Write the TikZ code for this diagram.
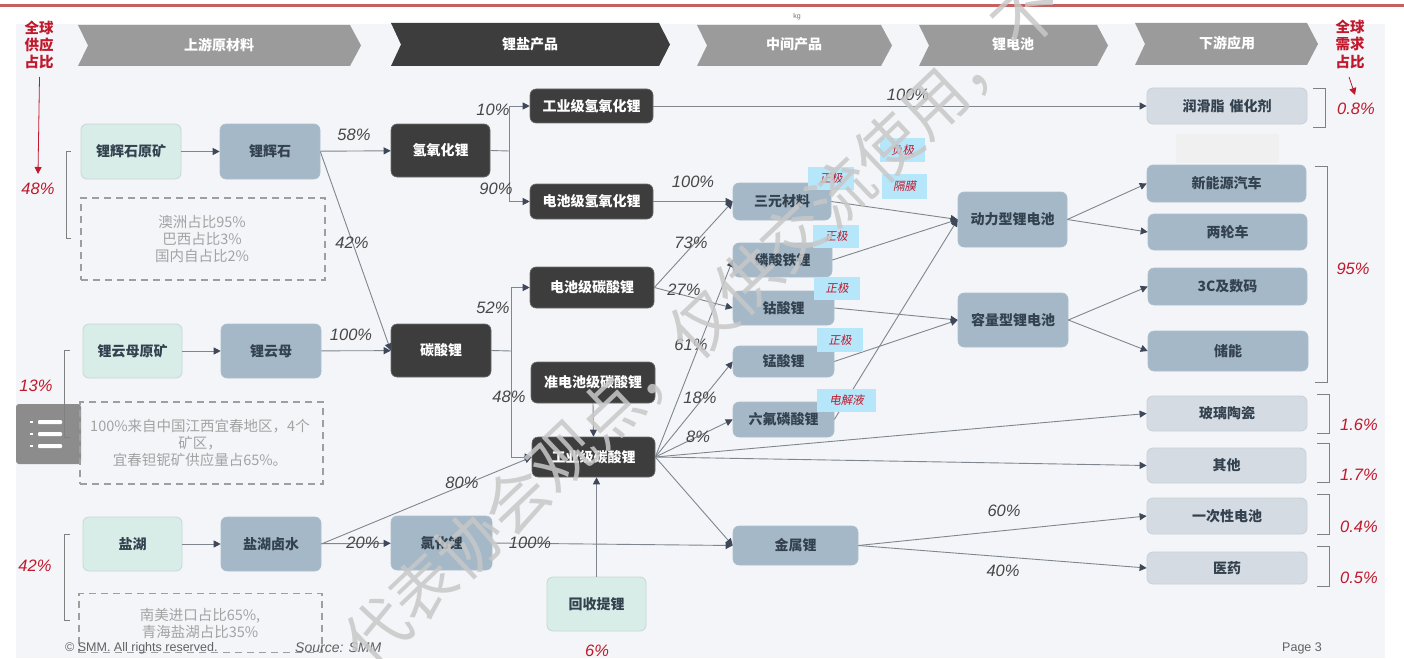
\documentclass[tikz,border=0pt]{standalone}
\usepackage{fontspec}
\setmainfont{Noto Sans CJK SC}
\newfontfamily\lat{Liberation Sans}
\newfontfamily\cjksl[AutoFakeSlant=0.2]{Noto Sans CJK SC}
\usetikzlibrary{arrows.meta}
\newcommand\fsz[2]{\fontsize{#1}{#2}\selectfont}
\definecolor{panelc}{HTML}{F3F5F8}
\definecolor{linec}{HTML}{7F868D}
\definecolor{tipc}{HTML}{3E4858}
\definecolor{darkc}{HTML}{3D3D3D}
\definecolor{steelc}{HTML}{A5B8C7}
\definecolor{mintc}{HTML}{D9EDE8}
\definecolor{palec}{HTML}{D5DBE3}
\definecolor{inkc}{HTML}{34424F}
\definecolor{redc}{HTML}{C0182C}
\definecolor{rulec}{HTML}{C46060}
\definecolor{bluec}{HTML}{B6E6FA}
\definecolor{chevc}{HTML}{9B9B9B}
\definecolor{markc}{HTML}{C8C8C8}
\tikzset{
  boxb/.style={rounded corners=6pt,inner sep=0pt,align=center,font=\fsz{14}{17}\bfseries},
  darkb/.style={boxb,fill=darkc,draw=darkc!75!white,line width=.6pt,text=white},
  steelb/.style={boxb,fill=steelc,draw=steelc!90!white,line width=.6pt,text=inkc},
  mintb/.style={boxb,fill=mintc,draw=mintc!80!gray,line width=.8pt,text=inkc},
  paleb/.style={boxb,fill=palec,draw=palec!88!gray,line width=.8pt,text=inkc},
  dashb/.style={draw=black!38,dashed,dash pattern=on 7pt off 5pt,line width=1.1pt,inner sep=0pt},
  flow/.style={draw=linec,line width=.9pt,-{Triangle[length=7pt,width=7pt,fill=tipc,color=tipc]}},
  plain/.style={draw=linec,line width=.9pt},
  pct/.style={font=\lat\itshape\fsz{16.5}{17},text=black!72,inner sep=0pt},
  rpct/.style={font=\lat\itshape\fsz{16.5}{17},text=redc,inner sep=0pt},
  rhead/.style={font=\cjksl\bfseries\itshape\fsz{14.5}{17},text=redc,inner sep=0pt},
  tagb/.style={fill=bluec,inner sep=0pt,font=\cjksl\itshape\fsz{11.5}{12},text=redc},
  note/.style={align=center,text=black!36,inner sep=0pt,font=\fsz{14.5}{17.4}},
  brk/.style={draw=black!50,line width=.8pt},
  chevt/.style={font=\fsz{14}{17}\bfseries,text=white,inner sep=0pt},
  foot/.style={font=\lat\fsz{12.5}{13},text=black!62,inner sep=0pt},
}
\newcommand\bx[7]{\node[#2,minimum width={(#4-#3)*1pt},minimum height={(#6-#5)*1pt}] (#1) at ({(#3+#4)/2},{(#5+#6)/2}) {#7};}
\newcommand\chev[6]{\fill[#1] (#2,#4) -- (#3-11,#4) -- (#3,{(#4+#5)/2}) -- (#3-11,#5) -- (#2,#5) -- (#2+10,{(#4+#5)/2}) -- cycle;}
\begin{document}
\begin{tikzpicture}[x=1pt,y=-1pt]
\useasboundingbox (0,0) rectangle (1404,658);
\begin{scope}
\clip (0,0) rectangle (1404,658);
\fill[white] (0,0) rectangle (1404,658);
\fill[panelc] (16,24) rectangle (1385,658);
\fill[black!6] (1176,134) rectangle (1279,163);
\fill[rulec] (0,4) rectangle (1404,7.5);
\node[text=black!55,inner sep=0pt,font=\lat\fsz{7}{7}] (mk) at (797,17) {kg};
% menu icon
\fill[black!45,rounded corners=3pt] (16,404) -- (81,404) -- (81,464) -- (16,464) -- cycle;
\foreach \yy in {422,434,446}{\fill[white] (30,{\yy-1}) rectangle (33,{\yy+1}); \fill[white,rounded corners=1pt] (38,{\yy-2}) rectangle (62,{\yy+2});}
% headers
\chev{chevc}{78}{361}{25}{66}{}
\chev{darkc}{391}{670}{23}{66}{}
\chev{chevc}{697}{892}{25}{66}{}
\chev{chevc}{919}{1108}{25}{66}{}
\chev{chevc}{1135}{1318}{23}{65}{}
\node[chevt] (h1) at (219,45) {上游原材料};
\node[chevt] (h2) at (530,44) {锂盐产品};
\node[chevt] (h3) at (794,44) {中间产品};
\node[chevt] (h4) at (1013,44) {锂电池};
\node[chevt] (h5) at (1227,43) {下游应用};
% dashed notes
\node[dashb,minimum width=244pt,minimum height=82pt] (d1) at (203,239) {};
\node[dashb,minimum width=243pt,minimum height=82pt] (d2) at (201.5,443) {};
\node[dashb,minimum width=243pt,minimum height=59pt] (d3) at (200.5,623) {};
\node[note] (n1) at (202,239) {澳洲占比95\%\\巴西占比3\%\\国内自占比2\%};
\node[note] (n2) at (200,443) {100\%来自中国江西宜春地区，4个\\矿区，\\宜春钽铌矿供应量占65\%。};
\node[note] (n3) at (200,623.5) {南美进口占比65\%,\\青海盐湖占比35\%};
% boxes
\bx{a1}{mintb}{81}{181}{124}{179}{锂辉石原矿}
\bx{a2}{steelb}{220}{320}{124}{179}{锂辉石}
\bx{b1}{mintb}{83}{182}{324}{378}{锂云母原矿}
\bx{b2}{steelb}{221}{321}{324}{378}{锂云母}
\bx{c1}{mintb}{83}{182}{517}{571}{盐湖}
\bx{c2}{steelb}{221}{321}{517}{571}{盐湖卤水}
\bx{lh}{darkb}{391}{490}{124}{177}{氢氧化锂}
\bx{lc}{darkb}{391}{491}{324}{377}{碳酸锂}
\bx{lcl}{steelb}{391}{492}{516}{570}{氯化锂}
\bx{gq}{darkb}{530}{653}{89}{123}{工业级氢氧化锂}
\bx{dq}{darkb}{530}{653}{184}{219}{电池级氢氧化锂}
\bx{dt}{darkb}{530}{654}{267}{308}{电池级碳酸锂}
\bx{zt}{darkb}{531}{655}{362}{403}{准电池级碳酸锂}
\bx{gt}{darkb}{532}{655}{437}{477}{工业级碳酸锂}
\bx{rec}{mintb}{547}{646}{577}{631}{回收提锂}
\bx{sy}{steelb}{733}{831}{183}{220}{三元材料}
\bx{lf}{steelb}{733}{832}{243}{277}{磷酸铁锂}
\bx{co}{steelb}{733}{834}{291}{325}{钴酸锂}
\bx{mn}{steelb}{733}{834}{346}{377}{锰酸锂}
\bx{pf}{steelb}{733}{834}{402}{437}{六氟磷酸锂}
\bx{li}{steelb}{733}{858}{526}{565}{金属锂}
\bx{pw}{steelb}{958}{1067}{192}{247}{动力型锂电池}
\bx{cp}{steelb}{958}{1068}{293}{347}{容量型锂电池}
\bx{u1}{paleb}{1147}{1307}{88}{124}{润滑脂\hspace{5pt}催化剂}
\bx{u2}{steelb}{1147}{1306}{165}{202}{新能源汽车}
\bx{u3}{steelb}{1148}{1307}{214}{250}{两轮车}
\bx{u4}{steelb}{1148}{1307}{268}{305}{3C及数码}
\bx{u5}{steelb}{1148}{1308}{331}{371}{储能}
\bx{u6}{paleb}{1147}{1307}{396}{431}{玻璃陶瓷}
\bx{u7}{paleb}{1147}{1306}{448}{483}{其他}
\bx{u8}{paleb}{1147}{1307}{498}{534}{一次性电池}
\bx{u9}{paleb}{1147}{1307}{552}{584}{医药}
% connectors
\coordinate (j1) at (509,151);
\coordinate (j2) at (511,351);
\draw[flow] (a1) -- (a2);
\draw[flow] (a2) -- (lh);
\draw[flow] (a2.east) -- (lc.west);
\draw[flow] (b1) -- (b2);
\draw[flow] (b2) -- (lc);
\draw[flow] (c1) -- (c2);
\draw[flow] (c2) -- (lcl);
\draw[flow] (c2.east) -- (gt.west);
\draw[plain] (lh.east) -- (j1);
\draw[flow] (j1) |- (gq.west);
\draw[flow] (j1) |- (dq.west);
\draw[plain] (lc.east) -- (j2);
\draw[flow] (j2) |- (dt.west);
\draw[flow] (j2) |- (gt.west);
\draw[flow] (zt.south) -- (gt.north);
\draw[flow] (rec.north) -- (gt.south -| rec.north);
\draw[flow] (gq.east) -- (u1.west);
\draw[flow] (dq.east) -- (sy.west);
\draw[flow] (dt.east) -- (sy.west);
\draw[flow] (dt.east) -- (co.west);
\draw[flow] (gt.east) -- (lf.west);
\draw[flow] (gt.east) -- (mn.west);
\draw[flow] (gt.east) -- (pf.west);
\draw[flow] (gt.east) -- (u6.west);
\draw[flow] (gt.east) -- (u7.west);
\draw[flow] (gt.east) -- (li.west);
\draw[flow] (lcl.east) -- (li.west);
\draw[flow] (sy.east) -- (pw.west);
\draw[flow] (lf.east) -- (pw.west);
\draw[flow] (pf.east) -- (pw.west);
\draw[flow] (co.east) -- (cp.west);
\draw[flow] (mn.east) -- (cp.west);
\draw[flow] (pw.east) -- (u2.west);
\draw[flow] (pw.east) -- (u3.west);
\draw[flow] (cp.east) -- (u4.west);
\draw[flow] (cp.east) -- (u5.west);
\draw[flow] (li.east) -- (u8.west);
\draw[flow] (li.east) -- (u9.west);
% blue tags
\bx{t1}{tagb}{808}{854}{167}{190}{正极}
\bx{t2}{tagb}{880}{925}{138}{162}{负极}
\bx{t3}{tagb}{882}{927}{174}{199}{隔膜}
\bx{t4}{tagb}{813}{859}{225}{248}{正极}
\bx{t5}{tagb}{814}{860}{277}{300}{正极}
\bx{t6}{tagb}{817}{863}{328}{352}{正极}
\bx{t7}{tagb}{817}{876}{389}{412}{电解液}
% percentages
\node[pct] (p1) at (354,135) {58\%};
\node[pct] (p2) at (352,243) {42\%};
\node[pct] (p3) at (493,110) {10\%};
\node[pct] (p4) at (496,189) {90\%};
\node[pct] (p5) at (693,182) {100\%};
\node[pct] (p6) at (908,95) {100\%};
\node[pct] (p7) at (691,243) {73\%};
\node[pct] (p8) at (684,290) {27\%};
\node[pct] (p9) at (493,308) {52\%};
\node[pct] (p10) at (351,335) {100\%};
\node[pct] (p11) at (509,397) {48\%};
\node[pct] (p12) at (691,345) {61\%};
\node[pct] (p13) at (700,398) {18\%};
\node[pct] (p14) at (698,437) {8\%};
\node[pct] (p15) at (462,483) {80\%};
\node[pct] (p16) at (363,543) {20\%};
\node[pct] (p17) at (530,543) {100\%};
\node[pct] (p18) at (1004,511) {60\%};
\node[pct] (p19) at (1003,571) {40\%};
% red texts
\node[rhead] (r1) at (39,28) {全球};
\node[rhead] (r2) at (39,45) {供应};
\node[rhead] (r3) at (39,62) {占比};
\node[rhead] (r4) at (1350,27) {全球};
\node[rhead] (r5) at (1350,44) {需求};
\node[rhead] (r6) at (1350,62) {占比};
\node[rpct] (v1) at (38,189) {48\%};
\node[rpct] (v2) at (36,386) {13\%};
\node[rpct] (v3) at (35,566) {42\%};
\node[rpct] (v4) at (597,651) {6\%};
\node[rpct] (v5) at (1356,109) {0.8\%};
\node[rpct] (v6) at (1353,269) {95\%};
\node[rpct] (v7) at (1359,425) {1.6\%};
\node[rpct] (v8) at (1359,475) {1.7\%};
\node[rpct] (v9) at (1359,527) {0.4\%};
\node[rpct] (v10) at (1359,578) {0.5\%};
\coordinate (ra1) at (39.5,77);
\coordinate (ra2) at (38,174);
\coordinate (ra3) at (1349,77);
\coordinate (ra4) at (1355,95);
\draw[draw=redc,line width=.8pt,-{Triangle[length=7pt,width=7pt,fill=redc,color=redc]}] (ra1) -- (ra2);
\draw[draw=redc,line width=.8pt,-{Triangle[length=7pt,width=7pt,fill=redc,color=redc]}] (ra3) -- (ra4);
% brackets
\draw[brk] (71,151) -- (66,151) -- (66,238) -- (71,238);
\draw[brk] (70,350) -- (64,350) -- (64,437) -- (70,437);
\draw[brk] (70,534) -- (64,534) -- (64,620) -- (70,620);
\draw[brk] (1313,88) -- (1325,88) -- (1325,127) -- (1313,127);
\draw[brk] (1315,166) -- (1327,166) -- (1327,382) -- (1315,382);
\draw[brk] (1317,394) -- (1329,394) -- (1329,433) -- (1317,433);
\draw[brk] (1317,443) -- (1329,443) -- (1329,482) -- (1317,482);
\draw[brk] (1317,494) -- (1329,494) -- (1329,534) -- (1317,534);
\draw[brk] (1317,546) -- (1329,546) -- (1329,586) -- (1317,586);
% footer
\node[foot,anchor=west] (f1) at (65,648) {© SMM. All rights reserved.};
\node[foot,anchor=west,font=\lat\itshape\fsz{14}{14}] (f2) at (295,648) {Source: SMM};
\node[foot,anchor=west] (f3) at (1282,648) {Page 3};
% watermark
\node[text=markc,opacity=.85,inner sep=0pt,rotate=43.5,font=\fsz{64}{64}] (wm) at (702,324) {代表协会观点，仅供交流使用，不};
\end{scope}
\end{tikzpicture}
\end{document}
